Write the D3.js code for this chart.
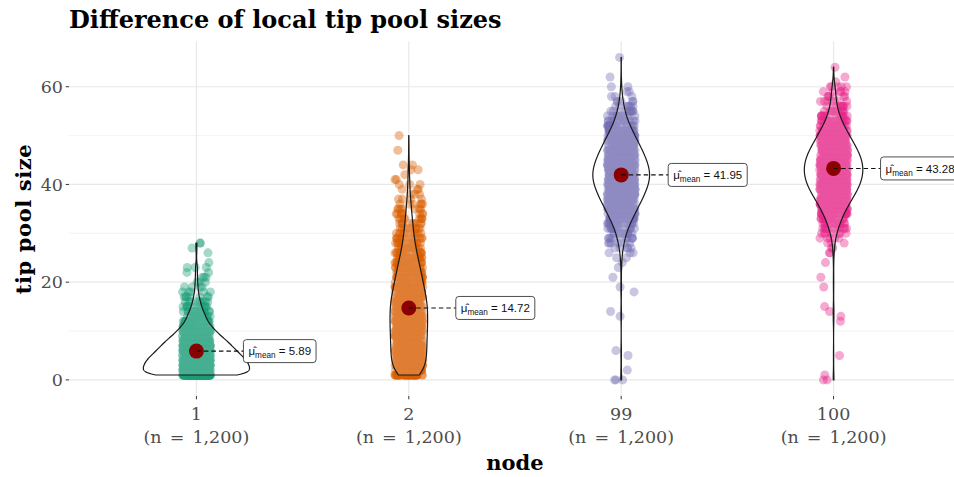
<!DOCTYPE html>
<html>
<head>
<meta charset="utf-8">
<script src="https://cdn.jsdelivr.net/npm/d3@7"></script>
<style>
  html, body { margin: 0; padding: 0; background: #ffffff; }
  svg { display: block; }
</style>
</head>
<body>
<svg id="chart" width="954" height="477"></svg>
<script>
// ---------------- data ----------------
const categories = ["1", "2", "99", "100"];
const sampleSizes = ["(n = 1,200)", "(n = 1,200)", "(n = 1,200)", "(n = 1,200)"];
const meanValues = [5.89, 14.72, 41.95, 43.28];
const groupColors = ["#1B9E77", "#D95F02", "#7570B3", "#E7298A"];
const yTicks = [0, 20, 40, 60];

// counts of observations per tip pool size (index = value 0, 1, 2, ...)
const countsNode1 = [0, 140, 137, 135, 128, 115, 102, 90, 78, 62, 50, 38, 28, 24, 18, 13, 10, 7, 5, 4, 3, 3, 2, 3, 1, 0, 1, 1, 2];
const countsNode2 = [0, 44, 44, 44, 44, 46, 46, 46, 46, 46, 48, 48, 48, 48, 48, 48, 48, 44, 42, 39, 35, 35, 32, 29, 26, 23, 20, 18, 16, 14, 12, 11, 10, 9, 8, 7, 6, 4, 3, 3, 3, 2, 1, 2, 2, 0, 0, 1, 0, 0, 1];
const countsNode99 = [3, 0, 1, 0, 0, 1, 1, 0, 0, 0, 0, 0, 0, 1, 1, 0, 0, 0, 1, 1, 0, 1, 0, 1, 1, 2, 3, 5, 7, 10, 13, 17, 23, 29, 35, 41, 48, 54, 60, 65, 70, 73, 74, 73, 69, 65, 60, 54, 48, 41, 35, 29, 23, 17, 13, 10, 7, 5, 3, 2, 2, 0, 1, 0, 0, 0, 1];
const countsNode100 = [2, 1, 0, 0, 0, 1, 0, 0, 0, 0, 0, 0, 1, 1, 1, 1, 0, 0, 0, 1, 0, 1, 0, 0, 1, 0, 2, 2, 3, 5, 8, 12, 16, 21, 26, 33, 40, 47, 55, 62, 68, 72, 75, 76, 75, 72, 68, 62, 55, 48, 41, 34, 27, 21, 16, 12, 9, 7, 6, 5, 5, 1, 1, 0, 1];
const countsByNode = [countsNode1, countsNode2, countsNode99, countsNode100];

// ---------------- layout ----------------
const W = 954, H = 477;
const panel = { left: 69, right: 961, top: 41.3, bottom: 396 };
const svg = d3.select("#chart");
const serif = "'DejaVu Serif', 'Liberation Serif', serif";
const sans = "'Liberation Sans', Arial, sans-serif";

const x = d3.scalePoint().domain(categories).range([panel.left, panel.right]).padding(0.6);
const y = d3.scaleLinear().domain([-3.3, 69.3]).range([panel.bottom, panel.top]);

// expand counts into observations
const groups = countsByNode.map((counts, gi) => {
  const vals = [];
  counts.forEach((c, v) => { for (let k = 0; k < c; k++) vals.push(v); });
  return { key: categories[gi], values: vals, color: groupColors[gi], mean: meanValues[gi] };
});

// ---------------- grid ----------------
const grid = svg.append("g");
const minorTicks = [10, 30, 50];
grid.selectAll("line.minor").data(minorTicks).join("line")
  .attr("x1", panel.left).attr("x2", W)
  .attr("y1", d => y(d)).attr("y2", d => y(d))
  .attr("stroke", "#f0f0f0").attr("stroke-width", 0.8);
grid.selectAll("line.major").data(yTicks).join("line")
  .attr("x1", panel.left).attr("x2", W)
  .attr("y1", d => y(d)).attr("y2", d => y(d))
  .attr("stroke", "#e8e8e8").attr("stroke-width", 1.2);
grid.selectAll("line.vmajor").data(categories).join("line")
  .attr("x1", d => x(d)).attr("x2", d => x(d))
  .attr("y1", panel.top).attr("y2", panel.bottom)
  .attr("stroke", "#e8e8e8").attr("stroke-width", 1.2);

// ---------------- points (jittered) ----------------
const rng = d3.randomUniform.source(d3.randomLcg(0.4213))(-14, 14);
const ptsG = svg.append("g");
groups.forEach(g => {
  const cx = x(g.key);
  ptsG.append("g").selectAll("circle").data(g.values).join("circle")
    .attr("cx", () => cx + rng())
    .attr("cy", d => y(d))
    .attr("r", 4.5)
    .attr("fill", g.color)
    .attr("fill-opacity", 0.4);
});

// ---------------- violins (gaussian KDE, bw.nrd0, scale = "area") ----------------
function bwNrd0(v) {
  const sd = d3.deviation(v);
  const sorted = v.slice().sort((a, b) => a - b);
  const iqr = d3.quantileSorted(sorted, 0.75) - d3.quantileSorted(sorted, 0.25);
  let lo = Math.min(sd, iqr / 1.34);
  if (!(lo > 0)) lo = sd || 1;
  return 0.9 * lo * Math.pow(v.length, -0.2);
}
function kde(v, bw, lo, hi, n) {
  const vals = d3.rollups(v, a => a.length, d => d);
  const out = [];
  const norm = 1 / (v.length * bw * Math.sqrt(2 * Math.PI));
  for (let i = 0; i < n; i++) {
    const t = lo + (hi - lo) * i / (n - 1);
    let s = 0;
    for (const [val, c] of vals) { const z = (t - val) / bw; s += c * Math.exp(-0.5 * z * z); }
    out.push([t, s * norm]);
  }
  return out;
}
groups.forEach(g => {
  const bw = bwNrd0(g.values);
  g.density = kde(g.values, bw, d3.min(g.values), d3.max(g.values), 512);
});
const maxDens = d3.max(groups, g => d3.max(g.density, d => d[1]));
const halfMax = 0.25 * x.step();
const violinG = svg.append("g");
groups.forEach(g => {
  const cx = x(g.key);
  const area = d3.area()
    .y(d => y(d[0]))
    .x0(d => cx - halfMax * d[1] / maxDens)
    .x1(d => cx + halfMax * d[1] / maxDens)
    .curve(d3.curveLinear);
  violinG.append("path")
    .attr("d", area(g.density) + "Z")
    .attr("fill", "#ffffff").attr("fill-opacity", 0.2)
    .attr("stroke", "#1a1a1a").attr("stroke-width", 1.2)
    .attr("stroke-linejoin", "round");
});

// ---------------- mean points + labels ----------------
const dotsG = svg.append("g");
const labelsG = svg.append("g");
groups.forEach((g, gi) => {
  const cx = x(g.key), cy = y(g.mean);
  const bx = cx + 47;
  dotsG.append("circle")
    .attr("cx", cx).attr("cy", cy).attr("r", 7.5).attr("fill", "#8B0000");
  const lab = labelsG.append("g");
  lab.append("line")
    .attr("x1", cx).attr("y1", cy).attr("x2", bx).attr("y2", cy)
    .attr("stroke", "#111").attr("stroke-width", 1.1)
    .attr("stroke-dasharray", "4.5,3");
  const rect = lab.append("rect");
  const txt = lab.append("text")
    .attr("x", bx + 5).attr("y", cy + 4.3)
    .attr("font-family", sans).attr("font-size", 11.5).attr("fill", "#111");
  txt.append("tspan").text("\u03BC\u0302");
  txt.append("tspan").attr("font-size", 8.2).attr("dy", 2.8).text("mean");
  txt.append("tspan").attr("dy", -2.8).text(" = " + d3.format(".2f")(g.mean));
  const bb = txt.node().getBBox();
  rect.attr("x", bx).attr("y", cy - 11.5).attr("width", bb.width + 10).attr("height", 23)
    .attr("rx", 3).attr("ry", 3)
    .attr("fill", "#ffffff").attr("stroke", "#222").attr("stroke-width", 0.8);
});

// ---------------- axes ----------------
const axisG = svg.append("g");
axisG.selectAll("line.yt").data(yTicks).join("line")
  .attr("x1", panel.left - 3.3).attr("x2", panel.left)
  .attr("y1", d => y(d)).attr("y2", d => y(d))
  .attr("stroke", "#333").attr("stroke-width", 1);
axisG.selectAll("text.yl").data(yTicks).join("text")
  .attr("x", panel.left - 6).attr("y", d => y(d)).attr("dy", "0.36em")
  .attr("text-anchor", "end")
  .attr("font-family", serif).attr("font-size", 17.5).attr("fill", "#4d4d4d")
  .text(d => d);
axisG.selectAll("line.xt").data(categories).join("line")
  .attr("x1", d => x(d)).attr("x2", d => x(d))
  .attr("y1", panel.bottom).attr("y2", panel.bottom + 3.3)
  .attr("stroke", "#333").attr("stroke-width", 1);
axisG.selectAll("text.xl").data(categories).join("text")
  .attr("x", d => x(d)).attr("y", 419.5)
  .attr("text-anchor", "middle")
  .attr("font-family", serif).attr("font-size", 17.5).attr("fill", "#4d4d4d")
  .text(d => d);
axisG.selectAll("text.xn").data(sampleSizes).join("text")
  .attr("x", (d, i) => x(categories[i])).attr("y", 443)
  .attr("text-anchor", "middle")
  .attr("font-family", serif).attr("font-size", 17.5).attr("fill", "#4d4d4d")
  .attr("word-spacing", 2.5)
  .text(d => d);

// axis titles
svg.append("text")
  .attr("x", 515).attr("y", 470).attr("text-anchor", "middle")
  .attr("font-family", serif).attr("font-weight", "bold").attr("font-size", 21).attr("fill", "#000")
  .text("node");
svg.append("text")
  .attr("transform", "translate(31,219) rotate(-90)").attr("text-anchor", "middle")
  .attr("font-family", serif).attr("font-weight", "bold").attr("font-size", 21).attr("fill", "#000")
  .attr("letter-spacing", 0.6)
  .text("tip pool size");

// title
svg.append("text")
  .attr("x", 69).attr("y", 28)
  .attr("font-family", serif).attr("font-weight", "bold").attr("font-size", 24).attr("fill", "#000")
  .text("Difference of local tip pool sizes");
</script>
</body>
</html>
